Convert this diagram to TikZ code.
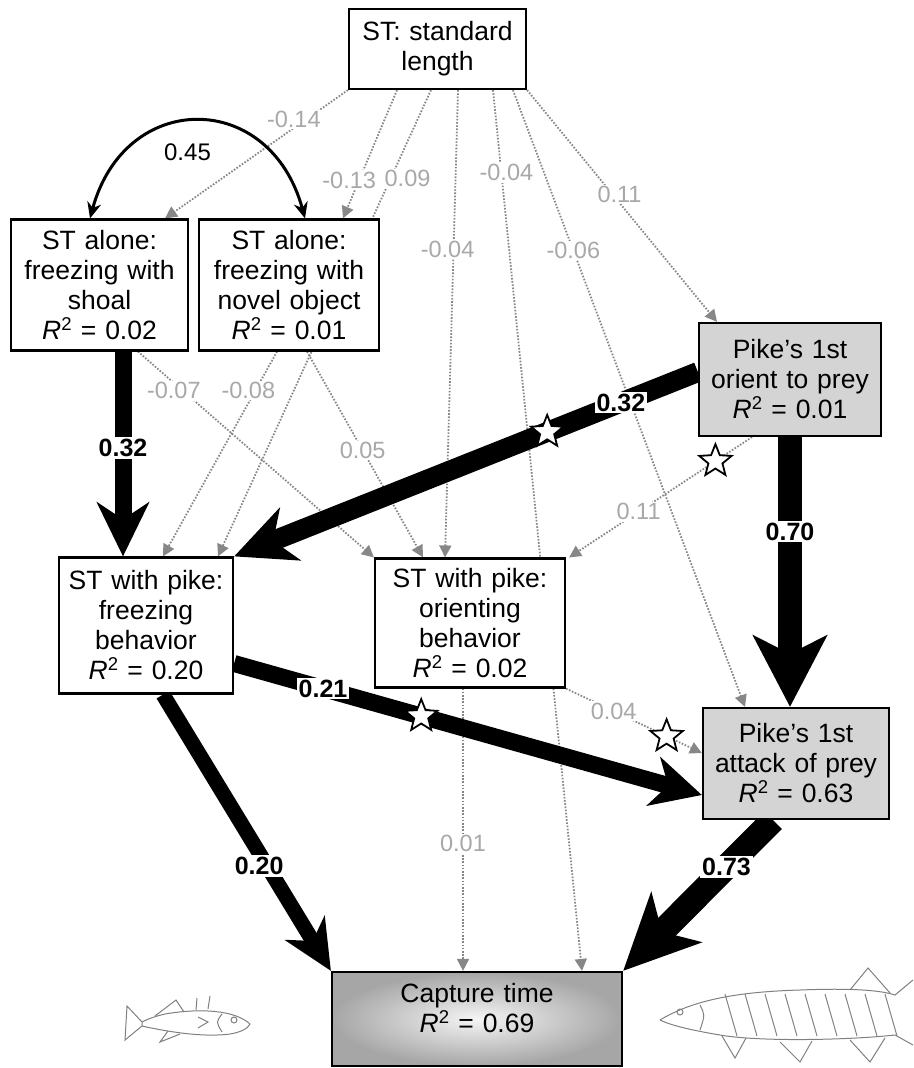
\documentclass[tikz,border=0pt]{standalone}
\usepackage{fontspec}
\setmainfont{Liberation Sans}
\usetikzlibrary{arrows.meta,shapes.geometric,backgrounds}
\newcommand{\rsq}{\textit{R}\textsuperscript{2}}
\definecolor{nsgray}{gray}{0.53}
\definecolor{nstext}{gray}{0.66}
\definecolor{pikefill}{gray}{0.83}
\begin{document}
\begin{tikzpicture}[x=1pt, y=-1pt, node distance=236pt,
  box/.style={draw, line width=2.2pt, fill=white, inner sep=0pt, align=center, font=\fontsize{26.5}{30}\selectfont},
  pikebox/.style={box, fill=pikefill},
  ns/.style={draw=nsgray, line width=1.8pt, dash pattern=on 1.6pt off 1.6pt, -{Triangle[length=12pt,width=12pt]}},
  sig/.style n args={4}{draw, line width=#1, -{Stealth[length=#2,width=#3,inset=#4]}},
  nslab/.style={fill=white, text=nstext, inner sep=1.5pt, font=\fontsize{23.5}{24}\selectfont},
  siglab/.style={fill=white, inner sep=2pt, font=\bfseries\fontsize{25}{26}\selectfont},
  starmark/.style={star, star points=5, star point ratio=2.3, draw=black, solid, fill=white, line width=1.8pt, minimum size=34pt, inner sep=0pt}]
\useasboundingbox (0,0) rectangle (913,1068);
\node (st) [box, text width=177pt, minimum height=80pt] at (437.5,49) {ST: standard\\length};
\node (shoal) [box, text width=177pt, minimum height=131pt, below of = st, xshift=-338pt] {ST alone:\\freezing with\\shoal\\\rsq{} = 0.02};
\node (novel) [box, text width=180pt, minimum height=131pt, node distance=189.5pt, right of = shoal] {ST alone:\\freezing with\\novel object\\\rsq{} = 0.01};
\node (freeze) [box, text width=174pt, minimum height=136pt, below of = shoal, xshift=46.5pt, yshift=-104.5pt] {ST with pike:\\freezing\\behavior\\\rsq{} = 0.20};
\node (orient) [box, text width=190pt, minimum height=129pt, node distance=324pt, right of = freeze, yshift=2.5pt] {ST with pike:\\orienting\\behavior\\\rsq{} = 0.02};
\node (porient) [pikebox, text width=182pt, minimum height=113pt, below of = st, xshift=352.5pt, yshift=-94.5pt] {Pike’s 1st\\orient to prey\\\rsq{} = 0.01};
\node (pattack) [pikebox, text width=186pt, minimum height=111pt, below of = porient, xshift=6pt, yshift=-148pt] {Pike’s 1st\\attack of prey\\\rsq{} = 0.63};
\node (capture) [box, shading=radial, inner color=gray!8, outer color=gray!70, text width=290pt, minimum height=94pt, below of = orient, xshift=7pt, yshift=-160pt] {Capture time\\\rsq{} = 0.69\\[-8pt]\mbox{}};
\begin{scope}[on background layer]
% effects of standard length
\draw[ns] (st.south west) -- node[nslab, pos=0.23, xshift=-12pt] {-0.14} ([xshift=65.5pt]shoal.north);
\draw[ns] ([xshift=-40.5pt]st.south) -- node[nslab, pos=0.7, xshift=-10pt] {-0.13} ([xshift=54pt]novel.north);
\draw[ns] ([xshift=-6.5pt]st.south) -- node[nslab, pos=0.19, xshift=17pt] {0.09} ([xshift=72pt]freeze.north);
\draw[ns] ([xshift=20.5pt]st.south) -- node[nslab, pos=0.34, xshift=-6pt] {-0.04} ([xshift=-25pt]orient.north);
\draw[ns] ([xshift=55.5pt]st.south) -- node[nslab, pos=0.094, xshift=5pt] {-0.04} ([xshift=105pt]capture.north);
\draw[ns] ([xshift=75.5pt]st.south) -- node[nslab, pos=0.26] {-0.06} ([xshift=-51pt]pattack.north);
\draw[ns] (st.south east) -- node[nslab, pos=0.45, xshift=7pt] {0.11} ([xshift=-73pt]porient.north);
% other weak paths
\draw[ns] ([xshift=38.5pt]shoal.south) -- node[nslab, pos=0.19, xshift=-9pt] {-0.07} (orient.north west);
\draw[ns] ([xshift=-12pt]novel.south) -- node[nslab, pos=0.19, xshift=-7pt] {-0.08} ([xshift=17pt]freeze.north);
\draw[ns] ([xshift=18pt]novel.south) -- node[nslab, pos=0.48] {0.05} ([xshift=-47pt]orient.north);
\draw[ns] ([xshift=-38pt]porient.south) -- node[starmark, pos=0.2] {} node[nslab, pos=0.62] {0.11} ([xshift=3pt]orient.north east);
\draw[ns] ([xshift=-7pt]orient.south) -- node[nslab, pos=0.55] {0.01} ([xshift=-14pt]capture.north);
\draw[ns] (orient.south east) -- node[nslab, pos=0.35] {0.04} node[starmark, pos=0.74] {} ([yshift=10.5pt]pattack.west);
% strong paths
\draw[sig={17pt}{54pt}{52pt}{17pt}] ([xshift=23.5pt]shoal.south) -- node[siglab, pos=0.47] {0.32} ([xshift=-23pt]freeze.north);
\draw[sig={20pt}{60pt}{56pt}{18pt}] ([yshift=7.5pt]porient.west) -- node[siglab, pos=0.166] {0.32} node[starmark, pos=0.325] {} (freeze.north east);
\draw[sig={24pt}{71pt}{73pt}{18pt}] (porient.south) -- node[siglab, pos=0.35] {0.70} ([xshift=-6pt]pattack.north);
\draw[sig={17pt}{50pt}{50pt}{15pt}] ([yshift=-38pt]freeze.east) -- node[siglab, pos=0.19] {0.21} node[starmark, pos=0.4] {} ([yshift=-31.5pt]pattack.west);
\draw[sig={15pt}{50pt}{46pt}{15pt}] ([xshift=17pt]freeze.south) -- node[siglab, pos=0.62, xshift=-8pt] {0.20} (capture.north west);
\draw[sig={25pt}{75pt}{70pt}{20pt}] ([xshift=-23pt]pattack.south) -- node[siglab, pos=0.31] {0.73} (capture.north east);
% correlation
\draw[line width=3pt, {Stealth[length=16pt,width=14pt]}-{Stealth[length=16pt,width=14pt]}] ([xshift=-9.5pt]shoal.north) .. controls +(35,-129) and +(-35,-129) .. node[pos=0.5, xshift=-10pt, yshift=-31pt, font=\fontsize{24}{24}\selectfont] {0.45} ([xshift=16pt]novel.north);
\end{scope}
% stickleback
\begin{scope}[draw=gray, line width=1pt]
\draw (250,1024) .. controls (235,1010) and (200,1008) .. (165,1014) .. controls (152,1017) and (146,1020) .. (142,1022) -- (142,1026) .. controls (160,1030) and (200,1038) .. (230,1034) .. controls (242,1032) and (248,1028) .. (250,1024);
\draw (142,1022) -- (127,1006) -- (125,1040) -- (142,1026);
\draw (155,1016) -- (176,1000) -- (184,1012);
\draw (196,1010) -- (197,998) (208,1009) -- (210,996);
\draw (198,1017) -- (208,1022) -- (198,1028);
\draw (222,1014) .. controls (216,1022) .. (222,1032);
\draw (234,1020) circle (3);
\draw (168,1031) -- (160,1042) -- (180,1034);
\end{scope}
% pike
\begin{scope}[draw=gray, line width=1pt]
\draw (660,1020) .. controls (690,1002) and (730,992) .. (800,990) .. controls (850,988) and (880,990) .. (895,995) -- (913,980) (913,1045) -- (895,1035) .. controls (850,1040) and (760,1042) .. (720,1035) .. controls (690,1030) and (670,1025) .. (660,1020);
\draw (850,990) -- (868,968) -- (890,993);
\draw (850,1040) -- (870,1062) -- (885,1038);
\draw (780,1042) -- (800,1062) -- (812,1041);
\draw (722,1036) -- (735,1058) -- (746,1038);
\draw (680,1012) circle (3);
\draw (700,1005) .. controls (705,1015) .. (700,1030);
\foreach \sx in {725,745,...,885}
  \draw (\sx,994) -- (\sx+12,1036);
\end{scope}
\end{tikzpicture}
\end{document}
